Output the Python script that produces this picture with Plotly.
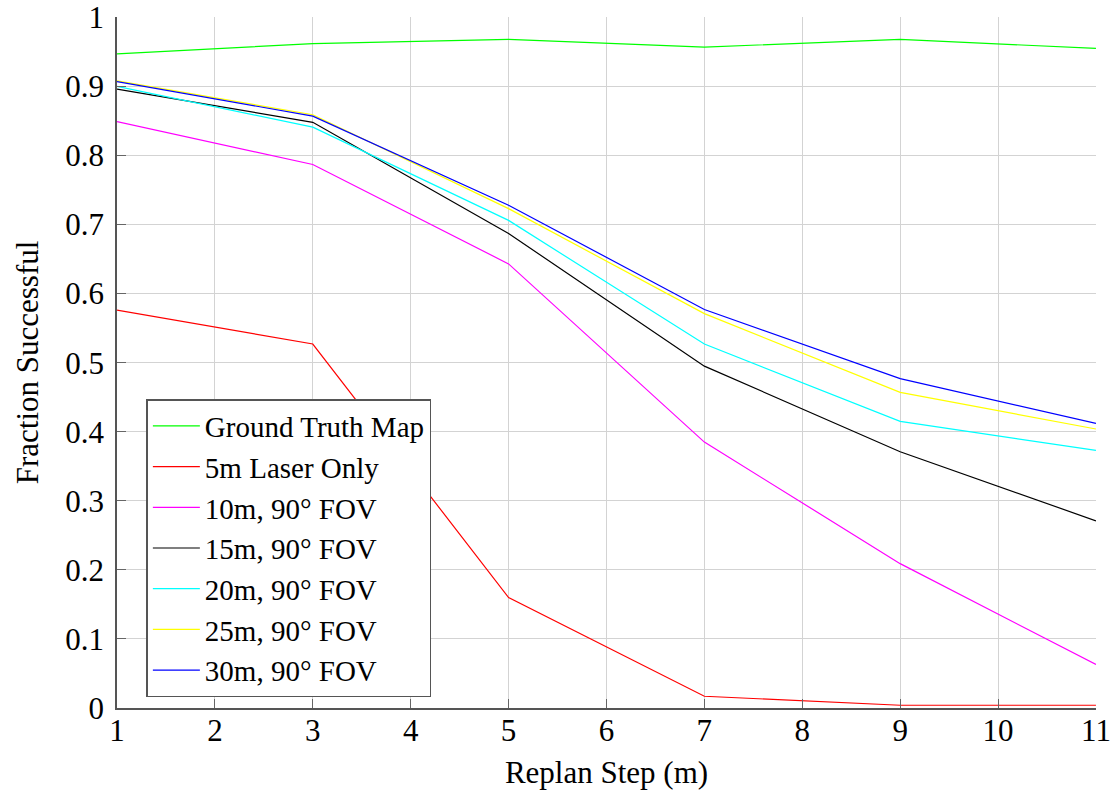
import plotly.graph_objects as go

x_steps = [1, 3, 5, 7, 9, 11]

ground_truth = [0.947, 0.962, 0.968, 0.957, 0.968, 0.955]
laser_5m = [0.576, 0.527, 0.160, 0.017, 0.004, 0.004]
fov_10m = [0.849, 0.787, 0.643, 0.385, 0.209, 0.063]
fov_15m = [0.896, 0.848, 0.687, 0.495, 0.371, 0.271]
fov_20m = [0.900, 0.841, 0.706, 0.527, 0.415, 0.373]
fov_25m = [0.908, 0.859, 0.723, 0.571, 0.457, 0.404]
fov_30m = [0.907, 0.857, 0.728, 0.577, 0.477, 0.412]

series_names = ["Ground Truth Map", "5m Laser Only", "10m, 90° FOV", "15m, 90° FOV",
                "20m, 90° FOV", "25m, 90° FOV", "30m, 90° FOV"]
series_values = [ground_truth, laser_5m, fov_10m, fov_15m, fov_20m, fov_25m, fov_30m]
series_colors = ["#00ff00", "#ff0000", "#ff00ff", "#000000", "#00ffff", "#ffff00", "#0000ff"]

x_ticks = list(range(1, 12))
y_ticks = [0, 0.1, 0.2, 0.3, 0.4, 0.5, 0.6, 0.7, 0.8, 0.9, 1]
y_tick_labels = ["0", "0.1", "0.2", "0.3", "0.4", "0.5", "0.6", "0.7", "0.8", "0.9", "1"]

FONT = "Liberation Serif"
FS = 31

fig = go.Figure()
for name, vals, col in zip(series_names, series_values, series_colors):
    fig.add_trace(go.Scatter(x=x_steps, y=vals, mode="lines", name=name,
                             line=dict(color=col, width=1.2)))

axis_common = dict(
    showgrid=True, gridcolor="#d3d3d3", gridwidth=1.2,
    showline=True, linecolor="#555555", linewidth=1.5,
    ticks="inside", ticklen=9, tickcolor="#666666", tickwidth=1.2,
    zeroline=False, automargin=False,
    tickfont=dict(family=FONT, size=FS, color="black"),
)

fig.update_layout(
    width=1113, height=790,
    margin=dict(l=117, r=17, t=17, b=82),
    paper_bgcolor="white", plot_bgcolor="white",
    font=dict(family=FONT, size=FS, color="black"),
    legend=dict(x=0.03, y=0.2315, xanchor="left", yanchor="middle",
                bgcolor="white", bordercolor="#555555", borderwidth=1.5,
                font=dict(family=FONT, size=29, color="black"),
                tracegroupgap=0, itemwidth=47),
    xaxis=dict(range=[1, 11.0005], tickvals=x_ticks, ticktext=[str(v) for v in x_ticks],
               ticklabelstandoff=-6,
               title=dict(text="Replan Step (m)", standoff=24,
                          font=dict(family=FONT, size=FS, color="black")),
               **axis_common),
    yaxis=dict(range=[0, 1.0005], tickvals=y_ticks, ticktext=y_tick_labels,
               ticklabelstandoff=5,
               title=dict(text="Fraction Successful", standoff=17,
                          font=dict(family=FONT, size=FS, color="black")),
               **axis_common),
)

fig.write_html("out.html")
